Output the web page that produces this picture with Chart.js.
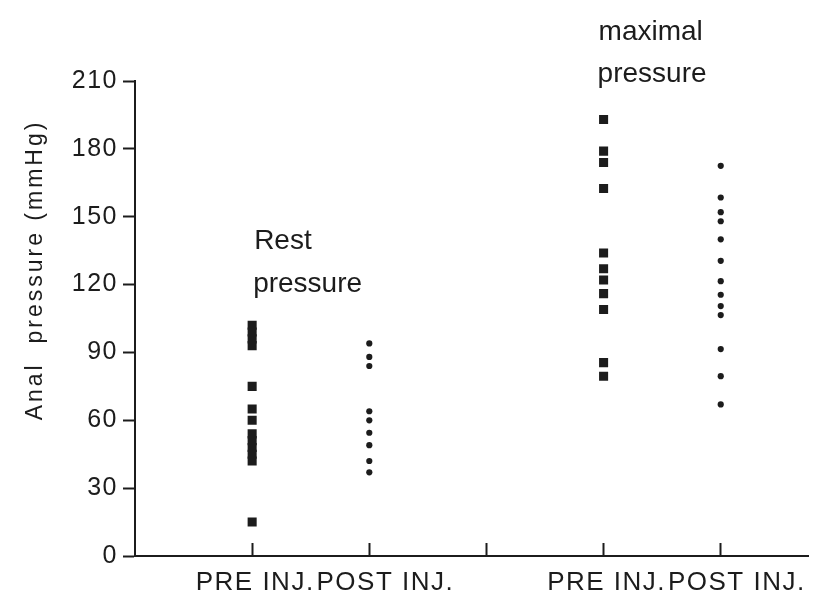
<!DOCTYPE html>
<html>
<head>
<meta charset="utf-8">
<title>Anal pressure</title>
<script src="https://cdn.jsdelivr.net/npm/chart.js@4.4.1/dist/chart.umd.min.js"></script>
<style>
  html, body { margin: 0; padding: 0; background: #fff; }
  #chart { display: block; }
</style>
</head>
<body>
<canvas id="chart" width="815" height="598"></canvas>
<script>
// --- data (mmHg) ---
const groupX = [1, 2, 4, 5];
const xTickValues = [1, 2, 3, 4, 5];
// the POST labels sit a little right of their ticks in the original
const xTickLabels = ['PRE INJ.', '   POST INJ.', '', 'PRE INJ.', '   POST INJ.'];
const yTicks = [0, 30, 60, 90, 120, 150, 180, 210];

const restPre = [102, 99, 96, 93, 75, 65, 60, 54, 51, 48, 45, 42, 15];
const restPost = [94, 88, 84, 64, 60, 54.5, 49, 42, 37];
const maxPre = [193, 179, 174, 162.5, 134, 127, 122, 116, 109, 85.5, 79.5];
const maxPost = [172.5, 158.5, 152, 148, 140, 130.5, 121.5, 115.5, 110.5, 106.5, 91.5, 79.5, 67];

const ink = '#1c1c1c';
const family = '"Liberation Sans", Arial, sans-serif';

function toPoints(values, x) {
  return values.map(v => ({ x, y: v }));
}

const squareSet = (label, values, x) => ({
  label,
  data: toPoints(values, x),
  pointStyle: 'rect',
  pointRadius: 6.4,
  backgroundColor: ink,
  borderColor: ink,
  borderWidth: 0
});

const dotSet = (label, values, x) => ({
  label,
  data: toPoints(values, x),
  pointStyle: 'circle',
  pointRadius: 3.1,
  backgroundColor: ink,
  borderColor: ink,
  borderWidth: 0
});

// spaced lettering for the tick labels, like the typeset original
const spacing = {
  id: 'spacing',
  beforeDraw(chart) {
    chart.ctx.letterSpacing = '1.5px';
  }
};

// texts that sit inside the plot (axis title + group notes)
const notes = {
  id: 'notes',
  afterDraw(chart) {
    const { ctx, scales: { x, y } } = chart;
    ctx.save();
    ctx.fillStyle = ink;

    // y axis title, rotated
    ctx.font = '23px ' + family;
    ctx.letterSpacing = '3px';
    ctx.translate(36, 270);
    ctx.rotate(-Math.PI / 2);
    ctx.textAlign = 'center';
    ctx.textBaseline = 'middle';
    ctx.fillText('Anal  pressure (mmHg)', 0, 0);
    ctx.setTransform(1, 0, 0, 1, 0, 0);

    ctx.letterSpacing = '0px';
    ctx.font = '28px ' + family;
    ctx.textAlign = 'left';
    ctx.textBaseline = 'alphabetic';
    ctx.fillText('Rest', x.getPixelForValue(1) + 2, y.getPixelForValue(135.7));
    ctx.fillText('pressure', x.getPixelForValue(1) + 1, y.getPixelForValue(116.7));
    ctx.fillText('maximal', x.getPixelForValue(4) - 5, y.getPixelForValue(228));
    ctx.fillText('pressure', x.getPixelForValue(4) - 6, y.getPixelForValue(209.5));
    ctx.restore();
  }
};

new Chart(document.getElementById('chart'), {
  type: 'scatter',
  data: {
    datasets: [
      squareSet('Rest PRE INJ.', restPre, groupX[0]),
      dotSet('Rest POST INJ.', restPost, groupX[1]),
      squareSet('Maximal PRE INJ.', maxPre, groupX[2]),
      dotSet('Maximal POST INJ.', maxPost, groupX[3])
    ]
  },
  options: {
    responsive: false,
    animation: false,
    layout: { padding: { top: 81, right: 3, left: 0, bottom: 0 } },
    scales: {
      x: {
        type: 'linear',
        min: 0,
        max: 5.75,
        afterBuildTicks: (scale) => { scale.ticks = xTickValues.map(v => ({ value: v })); },
        afterFit: (scale) => {
          scale.height = 42;
          scale.paddingLeft = 0;
          scale.paddingRight = 0;
        },
        ticks: {
          callback: (v) => xTickLabels[xTickValues.indexOf(v)] ?? '',
          color: ink,
          font: { family, size: 26 },
          padding: 24,
          labelOffset: 3,
          maxRotation: 0,
          autoSkip: false
        },
        grid: {
          drawOnChartArea: false,
          drawTicks: true,
          tickLength: -13,
          tickWidth: 2,
          tickColor: ink
        },
        border: { color: ink, width: 2 }
      },
      y: {
        min: 0,
        max: 210,
        afterBuildTicks: (scale) => { scale.ticks = yTicks.map(v => ({ value: v })); },
        afterFit: (scale) => { scale.width = 135; },
        ticks: {
          color: ink,
          font: { family, size: 25 },
          padding: 5
        },
        grid: {
          drawOnChartArea: false,
          drawTicks: true,
          tickLength: 12,
          tickWidth: 2,
          tickColor: ink
        },
        border: { color: ink, width: 2 }
      }
    },
    plugins: {
      legend: { display: false },
      tooltip: { enabled: false }
    }
  },
  plugins: [spacing, notes]
});
</script>
</body>
</html>
